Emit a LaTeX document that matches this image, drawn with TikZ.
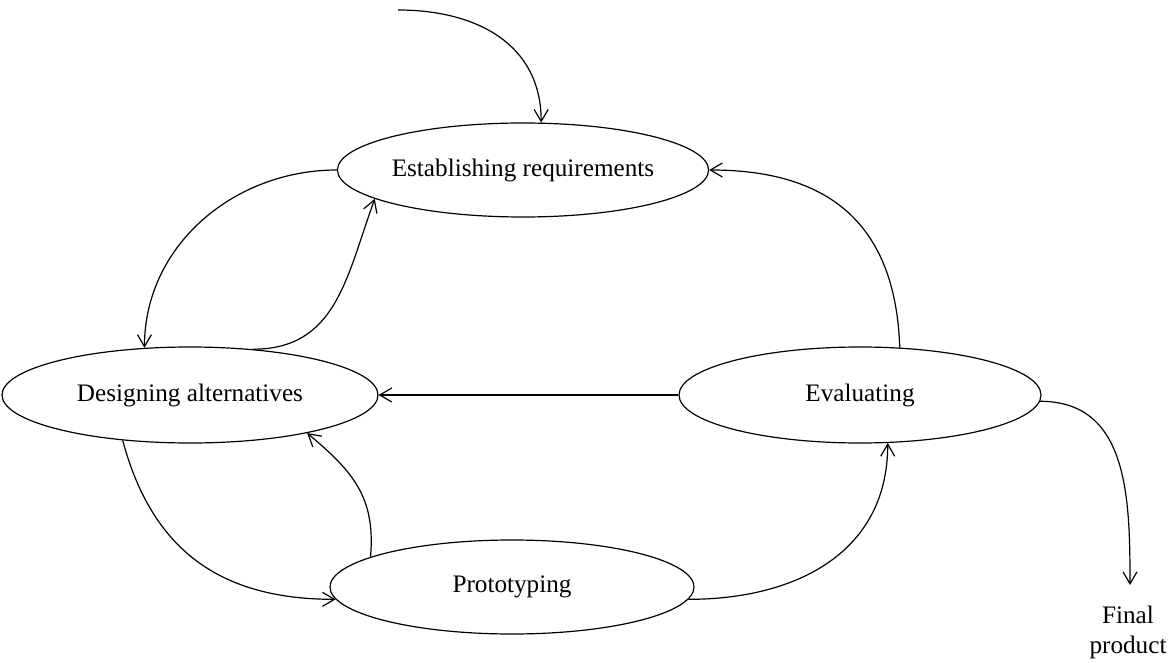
\documentclass[tikz,border=0pt]{standalone}
\usepackage{fontspec}
\setmainfont{Liberation Serif}
\usetikzlibrary{shapes.geometric,arrows.meta}
\begin{document}
\begin{tikzpicture}[x=0.5pt,y=-0.5pt,
  stage/.style={draw,ellipse,inner sep=0pt,line width=0.6pt,font=\fontsize{12.6}{14}\selectfont},
  flow/.style={draw,line width=0.6pt,-{Straight Barb[length=6pt,width=7pt]}}]
\useasboundingbox (0,0) rectangle (1172,663);
\node[stage,minimum width=183pt,minimum height=47pt] (est) at (523,170) {Establishing requirements};
\node[stage,minimum width=188pt,minimum height=48pt] (des) at (190,395) {Designing alternatives};
\node[stage,minimum width=181pt,minimum height=48pt] (eval) at (860,395) {Evaluating};
\node[stage,minimum width=182pt,minimum height=47pt] (proto) at (512,587) {Prototyping};
\coordinate (start) at (398,10);
\coordinate (fp) at (1130,585);
\node[font=\fontsize{12.6}{15}\selectfont,align=center,anchor=north,inner sep=0pt] (fptext) at (1128,606) {Final\\product};
\draw[flow] (start) to[out=0,in=90,looseness=1.1] (est.69);
\draw[flow] (est.west) to[out=180,in=90,looseness=1.0] (des.134);
\draw[flow] (des.36) to[out=0,in=250,looseness=1.1] (est.191);
\draw[flow] (eval.50) to[out=92,in=0,looseness=1.2] (est.east);
\draw[flow] (eval.west) -- (des.east);
\draw[flow] (des.214) to[out=-75,in=180,looseness=1.1] (proto.184);
\draw[flow] (proto.168) to[out=85,in=-40,looseness=1.1] (des.342);
\draw[flow] (proto.-4) to[out=0,in=-90,looseness=1.1] (eval.300);
\draw[flow] (eval.-2) to[out=0,in=90,looseness=1.1] (fp);
\end{tikzpicture}
\end{document}
